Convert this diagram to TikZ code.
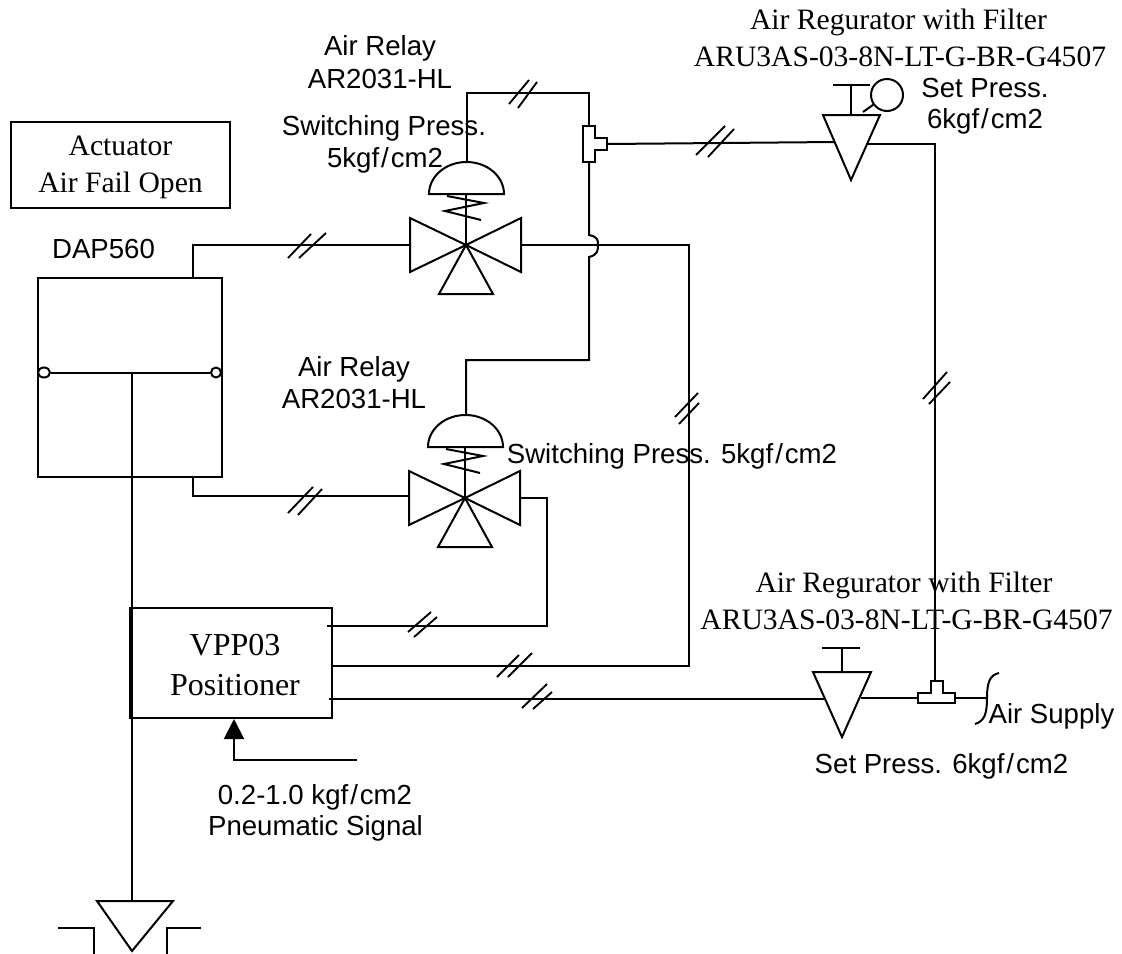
\documentclass[tikz,border=0pt]{standalone}
\usepackage{fontspec}
\setmainfont{Liberation Serif}
\newfontfamily\arialfont{Liberation Sans}
\newcommand{\perslash}{\kern1.5pt/\kern1.5pt}
\usepackage{tikz}
\usetikzlibrary{
	positioning
	, arrows.meta
	, shapes.geometric
}

\begin{document}
\begin{tikzpicture}[
		x=0.75pt, y=-0.75pt, line join=miter
		, pipe/.style={line width=1.5pt}
		, heavypipe/.style={pipe, line width=2.2pt}
		, symbol/.style={pipe, fill=white}
		, tick/.style={line width=1.4pt}
		, box/.style={draw, line width=1.5pt, inner sep=0pt}
		, pivot/.style={draw, fill=white, line width=1.5pt, inner sep=0pt}
		, serifnote/.style={font=\fontsize{22.2}{27}\selectfont, anchor=base, inner sep=0pt}
		, sansnote/.style={font=\fontsize{20.7}{26}\arialfont\selectfont, anchor=base, inner sep=0pt}]

		\useasboundingbox (0,0) rectangle (1122,954);

		%%% Boxes
		\node[box, minimum width=164.25pt, minimum height=64.5pt] (actuatorbox) at (120.5,165) {};
		\node[box, minimum width=138pt, minimum height=149.25pt] (dapbox) at (130,377.5) {};
		\node[box, minimum width=151.5pt, minimum height=82.5pt] (vppbox) at (231,663) {};

		%%% Labels
		\node[serifnote] (actuatorname) at (120.5,155) {Actuator};
		\node[serifnote] (actuatorfail) at (120.5,192) {Air Fail Open};
		\node[serifnote, font=\fontsize{24}{27}\selectfont] (vppname) at (235,655) {VPP03};
		\node[serifnote, font=\fontsize{24}{27}\selectfont] (vpprole) at (235,695) {Positioner};
		\node[sansnote] (dapname) at (103.5,258) {DAP560};

		%% Relays
		\node[sansnote] (relaytopname) at (380,55) {Air Relay};
		\node[sansnote] (relaytopcode) at (380,88) {AR2031-HL};
		\node[sansnote] (relaytoppress) at (384,135) {Switching Press.};
		\node[sansnote] (relaytopvalue) at (385,167) {5kgf\perslash cm2};
		\node[sansnote] (relaybotname) at (354,376) {Air Relay};
		\node[sansnote] (relaybotcode) at (354,408) {AR2031-HL};
		\node[sansnote] (relaybotpress) at (672,463) {Switching Press. 5kgf\perslash cm2};

		%% Regulators
		\node[serifnote] (regtopname) at (898.5,29) {Air Regurator with Filter};
		\node[serifnote] (regtopcode) at (900,66) {ARU3AS-03-8N-LT-G-BR-G4507};
		\node[sansnote] (regtoppress) at (985,97) {Set Press.};
		\node[sansnote] (regtopvalue) at (985,128) {6kgf\perslash cm2};
		\node[serifnote] (regbotname) at (904,592) {Air Regurator with Filter};
		\node[serifnote] (regbotcode) at (906.5,629) {ARU3AS-03-8N-LT-G-BR-G4507};
		\node[sansnote] (regbotpress) at (941.5,773) {Set Press. 6kgf\perslash cm2};
		\node[sansnote] (supplyname) at (1051.5,723) {Air Supply};

		%% Signal
		\node[sansnote] (signalrange) at (315,804) {0.2-1.0 kgf\perslash cm2};
		\node[sansnote] (signalname) at (315.5,835) {Pneumatic Signal};

		%%% Relay valves
		\foreach \relay/\cx/\cy in {relaytop/466/245, relaybot/465/498} {

			% Diaphragm, spring and three ports
			\coordinate (\relay-center) at (\cx,\cy);
			\coordinate (\relay-left) at (\cx-56,\cy);
			\coordinate (\relay-right) at (\cx+55,\cy);
			\coordinate (\relay-dome) at (\cx+1,\cy-83);
			\draw[pipe] (\cx,\cy) -- (\cx,\cy-51);
			\draw[pipe] (\cx-37,\cy-51) arc[start angle=180, end angle=360, x radius=37.5, y radius=32] -- cycle;
			\draw[pipe] (\cx-19,\cy-49) -- (\cx+18,\cy-42) -- (\cx-21,\cy-34) -- (\cx+15,\cy-25);
			\draw[pipe] (\relay-center) -- (\cx-56,\cy-27) -- (\cx-56,\cy+27) -- cycle;
			\draw[pipe] (\relay-center) -- (\cx+55,\cy-27) -- (\cx+55,\cy+27) -- cycle;
			\draw[pipe] (\relay-center) -- (\cx-27,\cy+49) -- (\cx+27,\cy+49) -- cycle;
		};

		%%% Regulators
		\coordinate (regtophead) at (851,115);
		\coordinate (regbothead) at (842,672);
		\draw[symbol] (823,115) -- (880,115) -- (851,180) -- cycle;
		\draw[symbol] (813,672) -- (871,672) -- (842,737) -- cycle;
		\draw[pipe] (regtophead) -- (851,85) (833,85) -- (870,85);
		\draw[pipe] (regbothead) -- (842,648) (822,648) -- (860,648);

		%% Gauge
		\node[circle, draw, line width=1.5pt, minimum size=24pt, inner sep=0pt] (gauge) at (887,95) {};
		\coordinate (gaugefoot) at (863,112);
		\draw[pipe] (gaugefoot) -- (gauge);

		%%% Tees
		\draw[pipe] (583,126) -- (595,126) -- (595,138) -- (607,138) -- (607,150) -- (595,150) -- (595,162) -- (583,162) -- cycle;
		\draw[pipe] (918,693) -- (931,693) -- (931,681) -- (943,681) -- (943,693) -- (955,693) -- (955,703) -- (918,703) -- cycle;
		\coordinate (teetopup) at (589,126);
		\coordinate (teetopdown) at (589,162);
		\coordinate (teetopout) at (607,144);
		\coordinate (teebotup) at (935,681);
		\coordinate (teebotleft) at (918,698);
		\coordinate (teebotright) at (955,698);
		\coordinate (relaytopbend) at (589,93);
		\coordinate (relaybotbend) at (589,360);

		%%% Instrument air lines
		\draw[pipe] (relaytop-dome) |- (relaytopbend) -- (teetopup);
		\draw[pipe] (relaybot-dome) |- (relaybotbend) -- (589,257)
			.. controls (598,255) and (598,250) .. (598,245)
			.. controls (598,240) and (598,237) .. (589,235) -- (teetopdown);
		\draw[pipe] (teetopout) -- (835,142);
		\draw[pipe] (868,144) -| (teebotup);
		\draw[heavypipe] (193,278) |- (relaytop-left);
		\draw[pipe] (193,477) |- (410,496);
		\draw[pipe] (relaytop-right) -| (689,666) -- (332,666);
		\draw[pipe] (relaybot-right) -| (547,626) -- (327,626);
		\draw[pipe] (329,699) -- (825,699);
		\draw[pipe] (861,698) -- (teebotleft);
		\draw[pipe] (teebotright) -- (987,698);

		%% Air supply end
		\draw[pipe] (999,673) .. controls (990,675) and (987,682) .. (987,698) .. controls (987,715) and (984,721) .. (975,724);

		%% Signal into positioner
		\coordinate (signalstart) at (357,760);
		\coordinate (signalend) at (234,719);
		\draw[pipe, -{Triangle[length=15pt, width=15pt]}] (signalstart) -| (signalend);

		%%% Lever and feedback link
		\node[pivot, ellipse, minimum width=9pt, minimum height=7.5pt] (leverleft) at (44,372.5) {};
		\node[pivot, circle, minimum width=7.5pt] (leverright) at (216,372.5) {};
		\draw[pipe] (leverleft) -- (leverright);
		\coordinate (leverdrop) at (132,372);
		\coordinate (groundtop) at (132,901);
		\draw[pipe] (leverdrop) -- (groundtop);

		%% Body below
		\draw[pipe] (groundtop) -- (97,901) -- (132,951) -- (173,901) -- cycle;
		\draw[pipe] (58,928) -- (94,928) -- (94,954);
		\draw[pipe] (201,928) -- (167,928) -- (167,954);

		%%% Double ticks on the lines
		\foreach \ax/\ay/\bx/\by in {
				509/104/529/80, 518/108/537/82
				, 288/258/311/234, 299/258/326/233
				, 696/155/725/126, 708/157/734/129
				, 675/417/698/393, 679/424/699/403
				, 923/399/947/372, 929/404/950/382
				, 288/513/313/487, 298/515/322/489
				, 408/632/431/612, 414/637/437/617
				, 497/677/519/655, 508/677/532/653
				, 522/708/547/684, 533/709/552/692} {
			\draw[tick] (\ax,\ay) -- (\bx,\by);
		};
\end{tikzpicture}
\end{document}
